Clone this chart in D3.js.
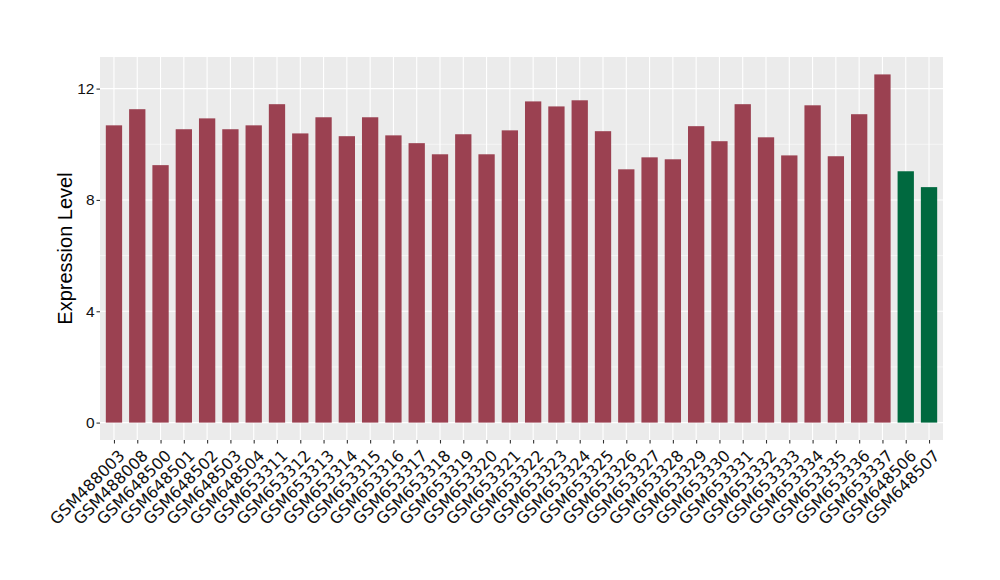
<!DOCTYPE html>
<html lang="en">
<head>
<meta charset="UTF-8">
<title>Expression Level</title>
<script src="https://cdnjs.cloudflare.com/ajax/libs/d3/7.8.5/d3.min.js"></script>
<style>
  body { margin: 0; background: #fff; font-family: "Liberation Sans", Arial, sans-serif; }
</style>
</head>
<body>
<div id="chart"></div>
<script>
// sample names on the x axis
const samples = ["GSM488003","GSM488008","GSM648500","GSM648501","GSM648502","GSM648503","GSM648504",
  "GSM653311","GSM653312","GSM653313","GSM653314","GSM653315","GSM653316","GSM653317","GSM653318",
  "GSM653319","GSM653320","GSM653321","GSM653322","GSM653323","GSM653324","GSM653325","GSM653326",
  "GSM653327","GSM653328","GSM653329","GSM653330","GSM653331","GSM653332","GSM653333","GSM653334",
  "GSM653335","GSM653336","GSM653337","GSM648506","GSM648507"];
const values = [10.68,11.26,9.25,10.54,10.93,10.54,10.68,11.44,10.39,10.97,10.29,10.97,10.32,10.04,9.64,
  10.36,9.64,10.50,11.54,11.36,11.58,10.47,9.10,9.53,9.46,10.65,10.11,11.44,10.25,9.60,11.40,9.57,
  11.08,12.51,9.03,8.46];
const groups = samples.map((s, i) => i < 34 ? "A" : "B");
const yTicks = [0, 4, 8, 12];
const yMinor = [2, 6, 10];

const width = 1000, height = 580;
const m = {left: 100, right: 57, top: 57, bottom: 140};

const svg = d3.select("#chart").append("svg")
  .attr("width", width).attr("height", height);

// ggplot-like discrete scale: 0.6 units padding on each side
const n = samples.length;
const unit = (width - m.left - m.right) / (n - 1 + 1.2);
const x = d3.scalePoint().domain(samples)
  .range([m.left + 0.6 * unit, width - m.right - 0.6 * unit]);
const bw = unit * 0.7;

const ymax = d3.max(values);
const y = d3.scaleLinear()
  .domain([-0.05 * ymax, ymax * 1.05])
  .range([height - m.bottom, m.top]);

const color = d3.scaleOrdinal().domain(["A","B"]).range(["#9B4151", "#00693F"]);

// panel
svg.append("rect")
  .attr("x", m.left).attr("y", m.top)
  .attr("width", width - m.left - m.right)
  .attr("height", height - m.top - m.bottom)
  .attr("fill", "#EBEBEB");

const grid = svg.append("g");
grid.selectAll(".minor").data(yMinor).join("line")
  .attr("x1", m.left).attr("x2", width - m.right)
  .attr("y1", d => y(d)).attr("y2", d => y(d))
  .attr("stroke", "#fff").attr("stroke-width", 0.55);
grid.selectAll(".major").data(yTicks).join("line")
  .attr("x1", m.left).attr("x2", width - m.right)
  .attr("y1", d => y(d)).attr("y2", d => y(d))
  .attr("stroke", "#fff").attr("stroke-width", 1.1);
grid.selectAll(".vx").data(samples).join("line")
  .attr("x1", d => x(d)).attr("x2", d => x(d))
  .attr("y1", m.top).attr("y2", height - m.bottom)
  .attr("stroke", "#fff").attr("stroke-width", 1.1);

// bars
svg.append("g").selectAll("rect").data(samples).join("rect")
  .attr("x", d => x(d) - bw / 2)
  .attr("width", bw)
  .attr("y", (d, i) => y(values[i]))
  .attr("height", (d, i) => y(0) - y(values[i]))
  .attr("fill", (d, i) => color(groups[i]));

// y axis
const yAxis = svg.append("g")
  .attr("transform", `translate(${m.left},0)`)
  .call(d3.axisLeft(y).tickValues(yTicks).tickSize(3.5).tickPadding(2));
yAxis.select(".domain").remove();
yAxis.selectAll("line").attr("stroke", "#333").attr("stroke-width", 1.1);
yAxis.selectAll("text").attr("fill", "#111")
  .style("font-size", "15.5px").style("font-family", "Liberation Sans, Arial, sans-serif");

// x axis
const xAxis = svg.append("g")
  .attr("transform", `translate(0,${height - m.bottom})`)
  .call(d3.axisBottom(x).tickSize(3.5));
xAxis.select(".domain").remove();
xAxis.selectAll("line").attr("stroke", "#333").attr("stroke-width", 1.1);
xAxis.selectAll("text")
  .attr("fill", "#111")
  .style("font-size", "16px").style("font-family", "DejaVu Sans, sans-serif")
  .attr("text-anchor", "end")
  .attr("x", 0).attr("y", 0)
  .attr("dy", "0.73em")
  .attr("transform", "translate(3,8.5) rotate(-45)");

// y title
svg.append("text")
  .attr("transform", `translate(72,${(m.top + height - m.bottom) / 2}) rotate(-90)`)
  .attr("text-anchor", "middle")
  .style("font-size", "20px")
  .style("font-family", "Liberation Sans, Arial, sans-serif")
  .attr("fill", "#000")
  .text("Expression Level");
</script>
</body>
</html>
